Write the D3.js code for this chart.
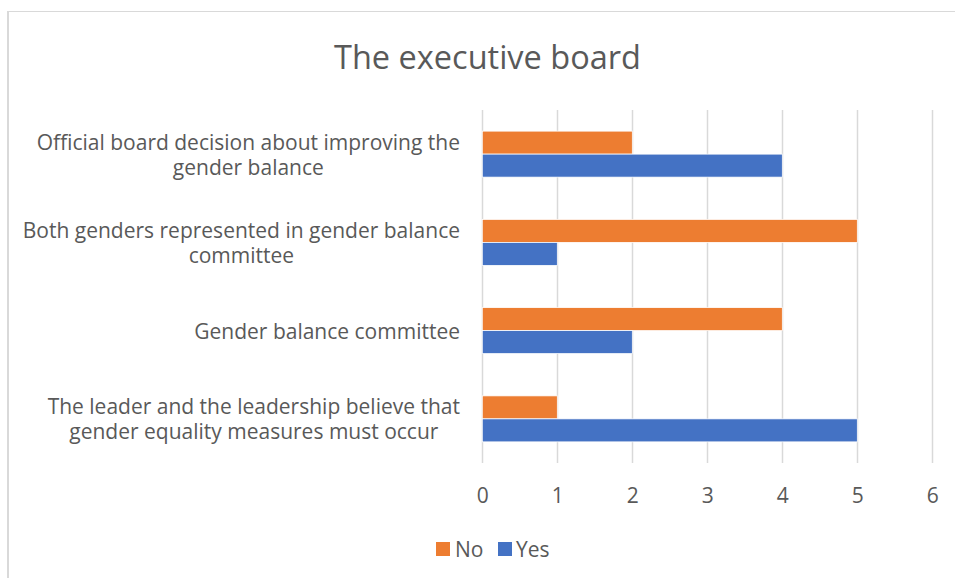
<!DOCTYPE html>
<html>
<head>
<meta charset="utf-8">
<script src="https://cdn.jsdelivr.net/npm/d3@7"></script>
<style>
  html, body { margin: 0; padding: 0; background: #fff; }
  svg { display: block; font-family: "Open Sans", "Noto Sans", sans-serif; }
</style>
</head>
<body>
<svg id="chart" width="955" height="578"></svg>
<script>
// Survey answers about the executive board, listed top to bottom
const categories = [
  ["Official board decision about improving the", "gender balance"],
  ["Both genders represented in gender balance", "committee"],
  ["Gender balance committee"],
  ["The leader and the leadership believe that", "gender equality measures must occur"]
];
const seriesNames = ["No", "Yes"];
const noValues  = [2, 5, 4, 1];
const yesValues = [4, 1, 2, 5];
const xTicks = [0, 1, 2, 3, 4, 5, 6];
const title = "The executive board";

const colors = { No: "#ED7D31", Yes: "#4472C4" };
const textColor = "#595959";
const gridColor = "#D9D9D9";

const svg = d3.select("#chart");

// chart frame
svg.append("line").attr("x1", 8).attr("x2", 8).attr("y1", 11).attr("y2", 578)
  .attr("stroke", gridColor).attr("stroke-width", 2);
svg.append("line").attr("x1", 7).attr("x2", 955).attr("y1", 11.5).attr("y2", 11.5)
  .attr("stroke", gridColor).attr("stroke-width", 1);

const plot = { left: 482.3, right: 932.3, top: 110, bottom: 463 };

const x = d3.scaleLinear().domain([0, 6]).range([plot.left, plot.right]);
const y = d3.scaleBand()
  .domain(d3.range(categories.length))
  .range([plot.top, plot.bottom])
  .paddingInner(0.479).paddingOuter(0.2395);
const ySeries = d3.scaleBand().domain(seriesNames).range([0, y.bandwidth()]);

// title
svg.append("text")
  .attr("x", 487.5).attr("y", 56)
  .attr("text-anchor", "middle").attr("dominant-baseline", "central")
  .attr("font-size", 32.5).attr("fill", textColor)
  .text(title);

// vertical gridlines
svg.append("g").selectAll("line").data(xTicks).join("line")
  .attr("x1", d => Math.round(x(d)) + 0.5).attr("x2", d => Math.round(x(d)) + 0.5)
  .attr("y1", plot.top).attr("y2", plot.bottom)
  .attr("stroke", gridColor).attr("stroke-width", 1.5);

// bars
const rows = categories.map((c, i) => ({ i, No: noValues[i], Yes: yesValues[i] }));
const groups = svg.append("g").selectAll("g").data(rows).join("g")
  .attr("transform", d => `translate(0,${y(d.i)})`);
groups.selectAll("rect")
  .data(d => seriesNames.map(s => ({ s, v: d[s] })))
  .join("rect")
  .attr("x", x(0))
  .attr("y", d => ySeries(d.s))
  .attr("width", d => x(d.v) - x(0))
  .attr("height", ySeries.bandwidth())
  .attr("fill", d => colors[d.s])
  .attr("stroke", "#fff").attr("stroke-width", 0.75);

// x axis tick labels
const xAxis = d3.axisBottom(x).tickValues(xTicks).tickSize(0).tickPadding(0).tickFormat(d3.format("d"));
const gx = svg.append("g").attr("transform", `translate(0,${plot.bottom})`).call(xAxis);
gx.select(".domain").remove();
gx.selectAll("text")
  .attr("y", 32).attr("dy", null).attr("dominant-baseline", "central")
  .attr("font-size", 21).attr("font-family", "\"Open Sans\", sans-serif")
  .attr("fill", textColor);

// category labels: block right-aligned to the plot, lines centred within it
const labelRight = 460;
const labelSize = 21;
const lineGap = 25;
const lab = svg.append("g").attr("font-size", labelSize).attr("fill", textColor);
categories.forEach((lines, i) => {
  const cy = y(i) + y.bandwidth() / 2;
  const t = lab.append("text").attr("dominant-baseline", "central");
  const spans = lines.map((ln, k) => t.append("tspan")
    .attr("y", cy + (k - (lines.length - 1) / 2) * lineGap).text(ln));
  const widths = spans.map(s => s.node().getComputedTextLength());
  const w = d3.max(widths);
  spans.forEach(s => s.attr("x", labelRight - w / 2).attr("text-anchor", "middle"));
});

// legend
const legend = svg.append("g").attr("font-size", 21).attr("fill", textColor);
const legendItems = [
  { s: "No", box: 436, text: 455 },
  { s: "Yes", box: 498, text: 516 }
];
legendItems.forEach(it => {
  legend.append("rect").attr("x", it.box).attr("y", 542).attr("width", 14).attr("height", 14)
    .attr("fill", colors[it.s]);
  legend.append("text").attr("x", it.text).attr("y", 549).attr("dominant-baseline", "central")
    .text(it.s);
});
</script>
</body>
</html>
